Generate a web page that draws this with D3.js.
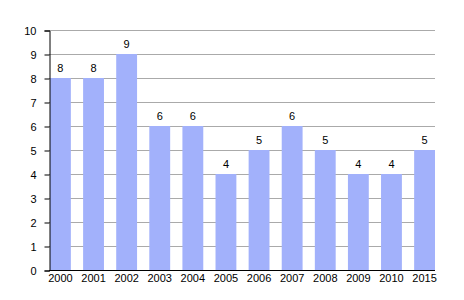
<!DOCTYPE html>
<html><head><meta charset="utf-8">
<script src="https://cdn.jsdelivr.net/npm/d3@7"></script>
<style>body{margin:0;background:#fff}svg{display:block}text{font-family:"Liberation Sans",Arial,sans-serif}</style>
</head><body><svg id="c" width="464" height="300"></svg>
<script>
const categories = ["2000","2001","2002","2003","2004","2005","2006","2007","2008","2009","2010","2015"];
const values = [8,8,9,6,6,4,5,6,5,4,4,5];
const yTicks = [0,1,2,3,4,5,6,7,8,9,10];

(function(){
const svg = d3.select("#c");
const mLeft = 49, mRight = 435, mTop = 30, mBottom = 270;
const x = d3.scaleBand().domain(categories).range([mLeft + 1, mRight]).paddingInner(0.37).paddingOuter(0).align(0);
const y = d3.scaleLinear().domain([0, 10]).range([mBottom, mTop]);

// gridlines
svg.append("g").selectAll("line").data(yTicks.filter(d => d > 0)).join("line")
  .attr("x1", mLeft).attr("x2", mRight).attr("y1", d => y(d) + 0.5).attr("y2", d => y(d) + 0.5)
  .attr("stroke", "#aaaaaa").attr("stroke-width", 1);

// bars
svg.append("g").selectAll("rect").data(values).join("rect")
  .attr("x", (d, i) => x(categories[i])).attr("width", x.bandwidth())
  .attr("y", d => y(d)).attr("height", d => y(0) - y(d))
  .attr("fill", "#a2b1fb");

// value labels
svg.append("g").selectAll("text").data(values).join("text")
  .attr("x", (d, i) => x(categories[i]) + x.bandwidth() / 2).attr("y", d => y(d) - 6)
  .attr("text-anchor", "middle").attr("font-size", 11).attr("fill", "#000").text(d => d);

// y axis
const yAxis = d3.axisLeft(y).tickValues(yTicks).tickSize(5).tickPadding(8).tickFormat(d3.format("d"));
const gy = svg.append("g").attr("transform", `translate(${mLeft + 0.5},0.5)`).call(yAxis);
gy.select(".domain").attr("stroke", "#000");
gy.selectAll(".tick line").attr("stroke", "#000");
gy.selectAll("text").attr("font-size", 11).attr("font-family", "Liberation Sans, Arial, sans-serif").attr("fill", "#000");

// x axis
const xAxis = d3.axisBottom(x).tickSize(0).tickPadding(4);
const gx = svg.append("g").attr("transform", `translate(0,${mBottom + 0.5})`).call(xAxis);
gx.select(".domain").attr("stroke", "#000").attr("d", `M${mLeft},0H${mRight}`);
gx.selectAll("text").attr("font-size", 11).attr("font-family", "Liberation Sans, Arial, sans-serif").attr("fill", "#000");
})();
</script></body></html>
